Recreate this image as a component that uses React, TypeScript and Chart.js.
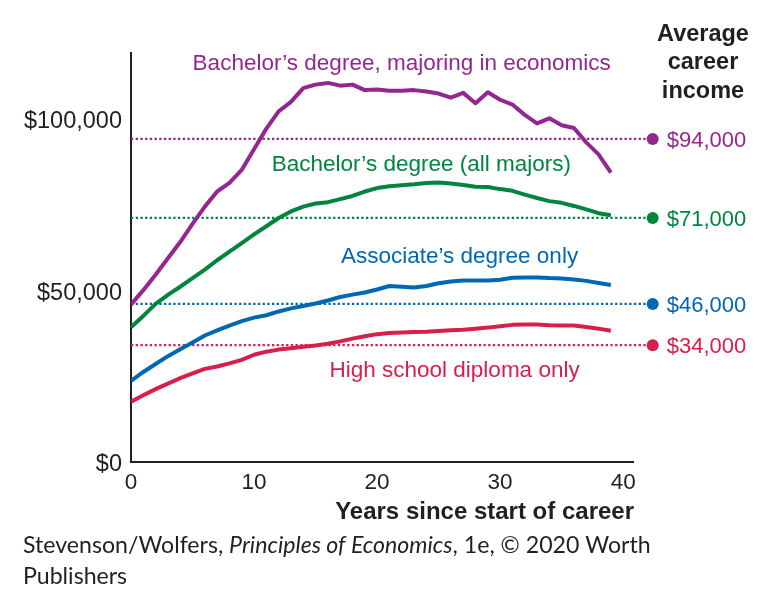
import React, { useEffect, useRef } from "react";
import { Chart, registerables } from "chart.js";

Chart.register(...registerables);

// ---------- data ----------
const years = [
  0, 1, 2, 3, 4, 5, 6, 7, 8, 9, 10, 11, 12, 13, 14, 15, 16, 17, 18, 19,
  20, 21, 22, 23, 24, 25, 26, 27, 28, 29, 30, 31, 32, 33, 34, 35, 36, 37, 38, 39,
];

const econMajors = [
  45800, 50000, 54500, 59300, 64000, 69300, 74300, 78700, 81200, 85000,
  91000, 97000, 102000, 104800, 108800, 109800, 110300, 109500, 109800, 108200,
  108400, 108000, 108000, 108200, 107800, 107200, 106000, 107400, 104400, 107600,
  105400, 104000, 101000, 98500, 100000, 98000, 97200, 93000, 89500, 84200,
];

const allMajors = [
  39200, 42500, 46000, 48600, 51000, 53500, 56000, 58700, 61200, 63700,
  66200, 68600, 71000, 72900, 74300, 75200, 75600, 76500, 77400, 78700,
  79700, 80200, 80500, 80800, 81200, 81300, 81000, 80600, 80100, 80000,
  79400, 78900, 77800, 76800, 75900, 75400, 74500, 73500, 72400, 71800,
];

const associates = [
  23600, 26200, 28500, 30800, 32800, 34800, 36800, 38300, 39700, 41000,
  42000, 42700, 43800, 44700, 45400, 46100, 47000, 48000, 48700, 49300,
  50200, 51200, 51000, 50800, 51200, 52000, 52500, 52800, 52800, 52800,
  53000, 53600, 53700, 53700, 53500, 53400, 53100, 52700, 52100, 51500,
];

const highSchool = [
  17500, 19400, 21200, 22800, 24400, 25800, 27100, 27800, 28700, 29700,
  31200, 32100, 32700, 33100, 33500, 33900, 34400, 35100, 35900, 36600,
  37200, 37500, 37700, 37800, 37900, 38100, 38300, 38500, 38800, 39100,
  39500, 39900, 40000, 40000, 39800, 39700, 39700, 39300, 38800, 38200,
];

const seriesNames = [
  "Bachelor\u2019s degree, majoring in economics",
  "Bachelor\u2019s degree (all majors)",
  "Associate\u2019s degree only",
  "High school diploma only",
];
const seriesColors = ["#93278f", "#00853f", "#0068b3", "#d71f4b"];
const averageIncome = [94000, 71000, 46000, 34000];

const xTickValues = [0, 10, 20, 30, 40];
const yTickValues = [0, 50000, 100000];

const xAxisTitle = "Years since start of career";
const averageHeader = ["Average", "career", "income"];
const sourceLine1 = ["Stevenson/Wolfers, ", "Principles of Economics", ", 1e, \u00a9 2020 Worth"];
const sourceLine2 = "Publishers";

// label anchor positions in data space (year, dollars)
const labelYears = [22.0, 23.6, 26.7, 26.3];
const labelValues = [116200, 86800, 60000, 27100];
const averageMarkerYear = 42.4;

// ---------- helpers ----------
const SANS = "'Liberation Sans', Arial, Helvetica, sans-serif";
const fmtDollar = (v: number) => "$" + Math.round(v).toLocaleString("en-US");

const allSeries = [econMajors, allMajors, associates, highSchool];

const annotationPlugin = {
  id: "annotations",
  afterDatasetsDraw(chart: any) {
    const ctx = chart.ctx as CanvasRenderingContext2D;
    const xs = chart.scales.x;
    const ys = chart.scales.y;
    ctx.save();
    // average markers (outside the chart area)
    averageIncome.forEach((v, i) => {
      ctx.fillStyle = seriesColors[i];
      ctx.beginPath();
      ctx.arc(xs.getPixelForValue(averageMarkerYear), ys.getPixelForValue(v), 6, 0, Math.PI * 2);
      ctx.fill();
    });
    ctx.restore();
  },
  afterDraw(chart: any) {
    const ctx = chart.ctx as CanvasRenderingContext2D;
    const xs = chart.scales.x;
    const ys = chart.scales.y;
    const area = chart.chartArea;
    ctx.save();

    // series labels
    ctx.textAlign = "center";
    ctx.textBaseline = "middle";
    ctx.font = `22.5px ${SANS}`;
    seriesNames.forEach((name, i) => {
      ctx.fillStyle = seriesColors[i];
      ctx.fillText(name, xs.getPixelForValue(labelYears[i]), ys.getPixelForValue(labelValues[i]) + 1.5);
    });

    // average value labels
    ctx.textAlign = "left";
    ctx.font = `22px ${SANS}`;
    averageIncome.forEach((v, i) => {
      ctx.fillStyle = seriesColors[i];
      ctx.fillText(fmtDollar(v), xs.getPixelForValue(averageMarkerYear) + 14, ys.getPixelForValue(v) + 2);
    });

    // header
    ctx.textAlign = "center";
    ctx.fillStyle = "#231f20";
    ctx.font = `bold 23.5px ${SANS}`;
    averageHeader.forEach((t, i) => {
      ctx.fillText(t, area.right + 70, 34.5 + i * 28.5);
    });

    // x-axis title
    ctx.textAlign = "right";
    ctx.font = `bold 24px ${SANS}`;
    ctx.fillText(xAxisTitle, area.right + 1, area.bottom + 50);

    // source line
    ctx.textAlign = "left";
    const fam = "Lato, 'Open Sans', sans-serif";
    const base = 24;
    const fonts = [`${base}px ${fam}`, `italic ${base}px ${fam}`, `${base}px ${fam}`];
    let w = 0;
    sourceLine1.forEach((t, i) => {
      ctx.font = fonts[i];
      w += ctx.measureText(t).width;
    });
    const size = base * (628 / w);
    const fontsFit = [`${size}px ${fam}`, `italic ${size}px ${fam}`, `${size}px ${fam}`];
    let x = 23;
    ctx.fillStyle = "#231f20";
    sourceLine1.forEach((t, i) => {
      ctx.font = fontsFit[i];
      ctx.fillText(t, x, 546);
      x += ctx.measureText(t).width;
    });
    ctx.font = fontsFit[0];
    ctx.fillText(sourceLine2, 23, 577);

    ctx.restore();
  },
};

export default function App() {
  const ref = useRef<HTMLCanvasElement | null>(null);

  useEffect(() => {
    if (!ref.current) return;

    const lineSets = allSeries.map((vals, i) => ({
      label: seriesNames[i],
      data: years.map((yr, j) => ({ x: yr, y: vals[j] })),
      borderColor: seriesColors[i],
      backgroundColor: seriesColors[i],
      borderWidth: 4,
      pointRadius: 0,
      tension: 0,
      borderJoinStyle: "round" as const,
      fill: false,
    }));

    const avgSets = averageIncome.map((v, i) => ({
      label: "avg" + i,
      data: [
        { x: 0, y: v },
        { x: averageMarkerYear, y: v },
      ],
      borderColor: seriesColors[i],
      backgroundColor: seriesColors[i],
      borderWidth: 2.3,
      borderDash: [2.3, 2.4],
      pointRadius: 0,
      clip: false as any,
      fill: false,
    }));

    const chart = new Chart(ref.current, {
      type: "line",
      data: { datasets: [...lineSets, ...avgSets] as any },
      options: {
        responsive: false,
        animation: false,
        devicePixelRatio: 1,
        layout: { padding: { left: 0, top: 53, right: 142, bottom: 0 } },
        plugins: {
          legend: { display: false },
          tooltip: { enabled: false },
        },
        scales: {
          x: {
            type: "linear",
            min: 0,
            max: 40.8,
            grid: { display: false, drawTicks: false },
            border: { display: true, color: "#231f20", width: 2 },
            afterFit: (s: any) => {
              s.height = 607 - 462;
            },
            afterBuildTicks: (s: any) => {
              s.ticks = xTickValues.map((v) => ({ value: v }));
            },
            ticks: {
              color: "#231f20",
              font: { family: SANS, size: 22.5 },
              padding: 7,
              maxRotation: 0,
              autoSkip: false,
            },
          },
          y: {
            type: "linear",
            min: 0,
            max: 119000,
            grid: { display: false, drawTicks: false },
            border: { display: true, color: "#231f20", width: 2 },
            afterFit: (s: any) => {
              s.width = 131;
            },
            afterBuildTicks: (s: any) => {
              s.ticks = yTickValues.map((v) => ({ value: v }));
            },
            ticks: {
              color: "#231f20",
              font: { family: SANS, size: 23.5 },
              padding: 9,
              labelOffset: 3,
              callback: (v: any) => fmtDollar(Number(v)),
            },
          },
        },
      },
      plugins: [annotationPlugin],
    });

    return () => chart.destroy();
  }, []);

  return (
    <div style={{ position: "absolute", left: 0, top: 0, width: 775, height: 607, background: "#fff" }}>
      <canvas ref={ref} width={775} height={607} />
    </div>
  );
}
